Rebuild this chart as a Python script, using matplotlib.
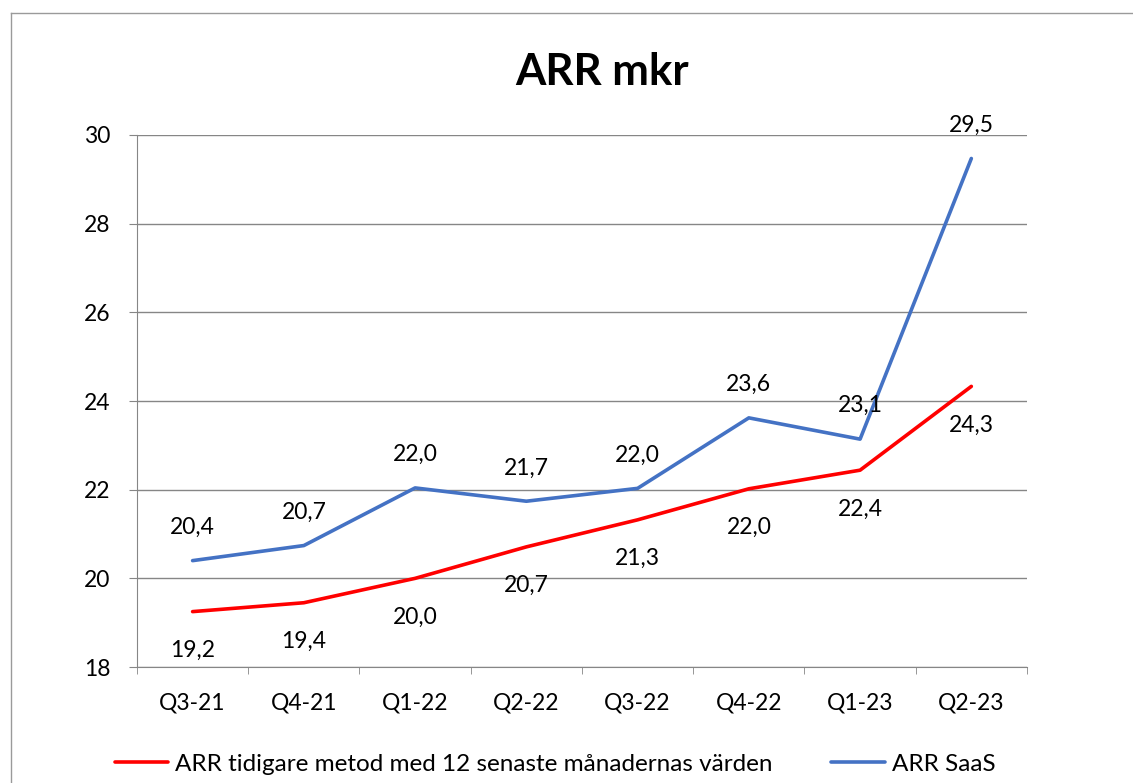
import matplotlib
matplotlib.use('Agg')
import matplotlib.pyplot as plt
from matplotlib.lines import Line2D

plt.rcParams['font.family'] = ['Lato', 'DejaVu Sans']

quarters = ['Q3-21', 'Q4-21', 'Q1-22', 'Q2-22', 'Q3-22', 'Q4-22', 'Q1-23', 'Q2-23']
arr_old = [19.25, 19.45, 20.0, 20.71, 21.32, 22.02, 22.44, 24.33]
arr_saas = [20.40, 20.74, 22.04, 21.74, 22.03, 23.62, 23.14, 29.47]
old_name = 'ARR tidigare metod med 12 senaste månadernas värden'
saas_name = 'ARR SaaS'


def fmt(v):
    return f'{v:.1f}'.replace('.', ',')


fig = plt.figure(figsize=(11.33, 7.83), dpi=100)
ax = fig.add_axes([0.1209, 0.1481, 0.7855, 0.6795])

x = range(len(quarters))
l_old, = ax.plot(x, arr_old, color='#ff0000', lw=2.6, solid_capstyle='round')
l_saas, = ax.plot(x, arr_saas, color='#4472c4', lw=2.6, solid_capstyle='round')

for i, v in enumerate(arr_saas):
    ax.annotate(fmt(v), (i, v), xytext=(0, 24), textcoords='offset points',
                ha='center', va='center', fontsize=16.5)
for i, v in enumerate(arr_old):
    ax.annotate(fmt(v), (i, v), xytext=(0, -28), textcoords='offset points',
                ha='center', va='center', fontsize=16.5)

ax.set_xlim(-0.5, len(quarters) - 0.5)
ax.set_ylim(18, 30)
ax.set_yticks(range(18, 31, 2))
ax.set_xticks(list(x))
ax.set_xticklabels(quarters)
ax.set_xticks([i - 0.5 for i in range(len(quarters) + 1)], minor=True)
ax.tick_params(axis='x', which='major', length=0, pad=18, labelsize=16.5)
ax.tick_params(axis='x', which='minor', length=5, color='#868686')
ax.tick_params(axis='y', length=6, color='#868686', pad=13, labelsize=16.5)
ax.grid(axis='y', color='#868686', lw=1)
ax.set_axisbelow(True)
for s in ['top', 'right']:
    ax.spines[s].set_visible(False)
for s in ['left', 'bottom']:
    ax.spines[s].set_color('#868686')

fig.text(0.531, 0.908, 'ARR mkr', ha='center', va='center', fontsize=31.5, fontweight='bold')

fig.legend([l_old, l_saas], [old_name, saas_name], loc='center', bbox_to_anchor=(0.49, 0.024),
           ncol=2, frameon=False, fontsize=17.5, handlelength=2.2, handletextpad=0.3,
           columnspacing=2.4)

fig.add_artist(Line2D([11 / 1133, 11 / 1133], [0, 1 - 13 / 783], transform=fig.transFigure,
                      color='#9a9a9a', lw=1))
fig.add_artist(Line2D([11 / 1133, 1], [1 - 13 / 783, 1 - 13 / 783], transform=fig.transFigure,
                      color='#9a9a9a', lw=1))

fig.savefig('out.png', dpi=100)
